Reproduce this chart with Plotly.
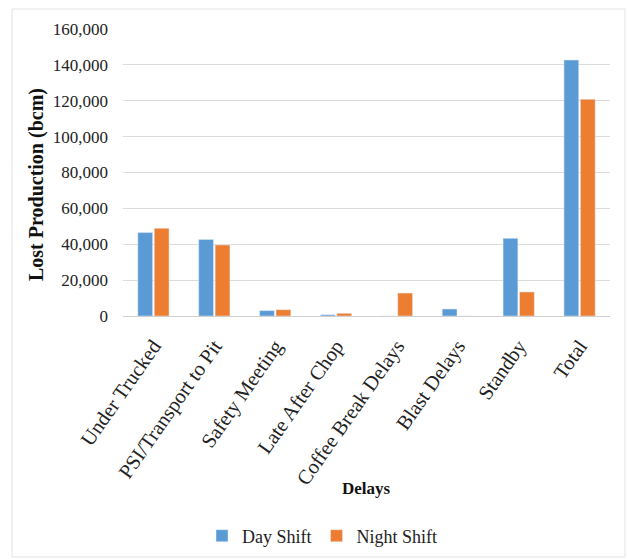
import plotly.graph_objects as go

categories = ["Under Trucked", "PSI/Transport to Pit", "Safety Meeting", "Late After Chop",
              "Coffee Break Delays", "Blast Delays", "Standby", "Total"]
day_shift = [46500, 42700, 3000, 700, 0, 3900, 43300, 142700]
night_shift = [48900, 39600, 3500, 1500, 12800, 0, 13400, 120800]
y_ticks = [0, 20000, 40000, 60000, 80000, 100000, 120000, 140000, 160000]

W, H = 627, 559
L, R, T, B = 123, 17, 29, 243
pw = W - L - R
ph = H - T - B

def px(x):
    return (x - L) / pw

def py(y):
    return (H - B - y) / ph

font = "Liberation Serif"

fig = go.Figure()
fig.add_trace(go.Bar(name="Day Shift", x=categories, y=day_shift, marker_color="#5B9BD5"))
fig.add_trace(go.Bar(name="Night Shift", x=categories, y=night_shift, marker_color="#ED7D31"))

fig.update_layout(
    width=W, height=H,
    margin=dict(l=L, r=R, t=T, b=B, autoexpand=False),
    paper_bgcolor="white", plot_bgcolor="white",
    barmode="group", bargap=0.46, bargroupgap=0.1,
    font=dict(family=font, size=17, color="#222"),
    showlegend=True,
    legend=dict(orientation="h", x=px(202), xanchor="left", y=py(536), yanchor="middle",
                font=dict(family=font, size=18, color="#222"), itemwidth=30,
                traceorder="normal"),
    xaxis=dict(tickangle=-55, showgrid=False, showline=True, linecolor="#d0d0d0",
               automargin=False,
               tickfont=dict(family=font, size=20.5, color="#222"), ticklabelstandoff=9),
    yaxis=dict(range=[0, 160000], tickvals=y_ticks, tickformat=",", showgrid=True,
               gridcolor="#dcdcdc", zeroline=False, showline=False, automargin=False,
               tickfont=dict(family=font, size=17, color="#222"),
               ticks="", ticklabelstandoff=14),
    annotations=[
        dict(text="<b>Delays</b>", xref="paper", yref="paper", x=px(366), y=py(488),
             xanchor="center", yanchor="middle",
             showarrow=False, font=dict(family=font, size=17, color="#111")),
        dict(text="<b>Lost Production (bcm)</b>", xref="paper", yref="paper", x=px(36),
             y=py(185), xanchor="center", yanchor="middle", textangle=-90, showarrow=False,
             font=dict(family=font, size=20, color="#111")),
    ],
    shapes=[
        dict(type="rect", xref="paper", yref="paper", x0=px(12), x1=px(625), y0=py(557),
             y1=py(9), line=dict(color="#e3e3e3", width=1), fillcolor="rgba(0,0,0,0)",
             layer="below"),
    ],
)

fig.write_html("out.html")
